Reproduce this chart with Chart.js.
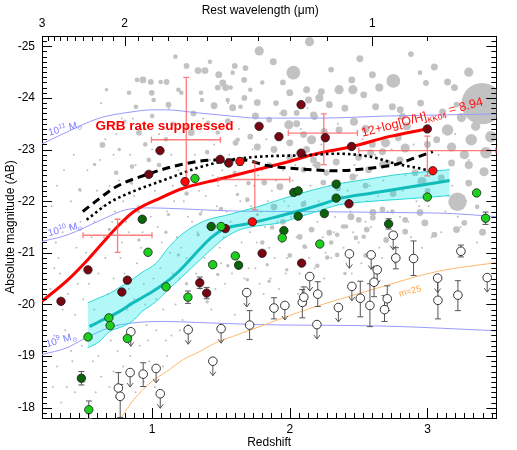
<!DOCTYPE html>
<html><head><meta charset="utf-8">
<script src="https://cdn.jsdelivr.net/npm/chart.js@4.4.1/dist/chart.umd.min.js"></script>
<style>html,body{margin:0;padding:0;background:#fff}canvas{display:block}</style>
</head><body>
<canvas id="c" width="517" height="450"></canvas>
<script>
// ---------------- DATA ----------------
const xMajorTicks = [1, 2, 3];
const xMinorPerUnit = 15;
const yMajorTicks = [-25, -24, -23, -22, -21, -20, -19, -18];
const obsWavelength = 3.6;
const waveMajorTicks = [3, 2, 1];
const waveMinorTicks = [2.9,2.8,2.7,2.6,2.5,2.4,2.3,2.2,2.1,1.9,1.8,1.7,1.6,1.5,1.4,1.3,1.2,1.1,0.9,0.8];

const darkRedZ = [1.057,0.976,1.494,1.556,1.777,2.082,1.921,2.082,2.258,2.449,2.999,2.430,0.534,0.820,0.780,0.338,1.346,1.396,1.532,1.799,2.086];
const darkRedM = [-22.98,-22.52,-22.81,-22.74,-23.45,-23.87,-23.25,-22.93,-23.23,-23.06,-23.40,-21.95,-20.67,-20.47,-20.24,-20.06,-20.42,-20.22,-21.47,-20.99,-20.80];
const greenZ = [1.311,0.970,1.440,1.101,1.260,0.686,0.695,0.534,0.820,0.540,1.501,1.945,2.218,1.604,2.999,3.357,3.422];
const greenM = [-22.44,-21.01,-20.77,-20.34,-20.14,-19.74,-19.59,-19.37,-19.34,-17.96,-21.51,-21.29,-21.17,-20.94,-22.08,-22.16,-21.67];
const darkGreenZ = [0.928,1.429,2.337,2.029,2.061,2.337,2.061,2.251,1.957,1.628,2.718,0.486];
const darkGreenM = [-21.65,-21.51,-22.33,-22.17,-22.20,-22.06,-21.71,-21.76,-21.43,-20.76,-21.56,-18.57];
const redZ = [1.239,1.638,1.728,3.039];
const redM = [-22.38,-22.77,-21.60,-22.59];
const colErrZ = [1.346,1.396,1.260,2.718,3.422,0.486,0.540,1.638];
const colErrM = [-20.42,-20.22,-20.14,-21.56,-21.67,-18.57,-17.96,-22.77];
const colErr  = [0.11,0.11,0.12,0.10,0.12,0.13,0.17,0.07];

const openZ = [0.845,0.840,0.755,0.768,0.935,1.029,1.059,1.262,1.441,1.501,1.708,1.687,1.885,1.964,2.091,2.102,2.145,2.203,2.197,2.353,2.433,2.451,2.512,2.582,2.591,2.635,2.612,2.688,2.708,2.751,2.770,2.899,3.074,3.076,3.221,3.243,3.434];
const openM = [-19.47,-18.68,-18.38,-18.22,-18.65,-18.76,-18.27,-19.51,-18.90,-19.53,-19.60,-20.23,-19.93,-19.98,-20.04,-20.14,-20.54,-20.20,-19.61,-19.94,-20.98,-20.35,-20.12,-19.98,-20.96,-20.67,-20.43,-19.90,-20.11,-21.34,-20.90,-20.89,-20.51,-20.08,-20.18,-21.03,-20.52];
const openUpperLimit = [1,1,0,0,0,1,1,1,1,1,0,1,0,1,0,0,1,0,1,1,1,1,0,0,1,1,0,0,0,1,0,0,1,0,0,0,1];
const openErrMinus = [0,0,0.30,0.23,0.22,0,0,0,0,0,0.28,0,0.20,0,0.25,0.20,0,0.24,0,0,0,0,0.33,0.42,0,0,0.28,0.27,0.25,0,0.20,0.34,0,0.40,0.28,0.12,0];
const openErrPlus  = [0,0,0.18,0.41,0.24,0,0,0,0,0,0.28,0,0.21,0,0.30,0.15,0,0.24,0,0,0,0,0.36,0.41,0,0,0.28,0.23,0.23,0,0.21,0.33,0,0.36,0.30,0.11,0];

const crossZ = [0.749,1.248,1.746,2.247,2.999];
const crossM = [-21.34,-23.19,-22.42,-23.32,-22.98];
const crossZLo = [0.498,0.995,1.477,1.989,2.501];
const crossZHi = [0.999,1.496,2.000,2.491,3.497];
const crossMTop = [-21.65,-24.40,-22.76,-23.69,-23.26];
const crossMBottom = [-21.01,-22.32,-21.83,-22.71,-22.49];

const metalZ = [0.2,0.390,0.534,0.630,0.749,0.868,1.059,1.226,1.477,1.716,1.955,2.193,2.456,2.718,2.994];
const metalM = [-20.06,-20.48,-20.87,-21.16,-21.51,-21.80,-22.06,-22.25,-22.42,-22.58,-22.74,-22.92,-23.06,-23.25,-23.40];
const dashedZ = [0.496,0.617,0.739,0.976,1.212,1.456,1.656,1.835,2.050,2.337,2.552,2.767,2.910,3.039];
const dashedM = [-21.80,-22.05,-22.28,-22.53,-22.71,-22.80,-22.80,-22.69,-22.63,-22.59,-22.63,-22.71,-22.84,-22.96];
const dottedZ = [0.524,0.689,0.854,1.097,1.334,1.570,1.763,2.107,2.344,2.588,2.752,2.989];
const dottedM = [-21.64,-21.97,-22.18,-22.42,-22.65,-22.80,-22.86,-22.89,-22.92,-22.86,-22.74,-22.61];
const medianZ = [0.546,0.617,0.689,0.761,0.854,0.926,1.026,1.097,1.169,1.241,1.334,1.427,1.527,1.692,1.907,2.050,2.244,2.358,2.602,2.838,3.161];
const medianM = [-19.57,-19.67,-19.76,-19.86,-20.02,-20.13,-20.29,-20.42,-20.58,-20.77,-21.04,-21.29,-21.47,-21.56,-21.70,-21.80,-21.95,-22.05,-22.16,-22.26,-22.40];
const bandZ = [0.532,0.617,0.689,0.782,0.854,0.926,1.026,1.118,1.212,1.334,1.427,1.527,1.642,1.763,1.928,2.050,2.172,2.358,2.552,2.767,2.981,3.161];
const bandUpper = [-20.03,-20.13,-20.21,-20.36,-20.48,-20.62,-20.79,-21.10,-21.35,-21.56,-21.66,-21.72,-21.80,-21.89,-22.03,-22.13,-22.22,-22.34,-22.42,-22.51,-22.57,-22.61];
const bandLower = [-19.16,-19.28,-19.47,-19.57,-19.67,-19.86,-20.05,-20.29,-20.52,-20.83,-21.06,-21.29,-21.45,-21.52,-21.58,-21.68,-21.78,-21.93,-21.99,-22.03,-22.07,-22.11];

const mass11Z = [0.2,0.381,0.617,0.854,0.997,1.097,1.334,1.570,1.763,2.229,2.702,3.5];
const mass11M = [-23.11,-23.34,-23.61,-23.73,-23.77,-23.77,-23.71,-23.65,-23.61,-23.61,-23.65,-23.69];
const mass10Z = [0.2,0.388,0.632,0.818,0.990,1.226,1.585,2.050,2.767,3.182,3.5];
const mass10M = [-21.22,-21.35,-21.64,-21.84,-21.87,-21.85,-21.81,-21.80,-21.78,-21.76,-21.70];
const mass9Z = [0.2,0.381,0.496,0.689,0.854,1.097,1.334,1.763,2.702,3.5];
const mass9M = [-19.03,-19.16,-19.32,-19.55,-19.64,-19.67,-19.65,-19.61,-19.58,-19.49];
const m25Z = [0.773,0.868,0.990,1.105,1.226,1.348,1.463,1.585,1.821,1.943,2.122,2.602,3.074,3.5];
const m25M = [-17.80,-18.16,-18.49,-18.70,-18.93,-19.09,-19.26,-19.38,-19.61,-19.73,-19.90,-20.29,-20.64,-20.81];

// field galaxies: [z, M, relative size]
const fieldBig = [
[1.778,-24.91,4],[2.143,-25.09,4],[2.509,-24.76,3],[2.752,-24.33,6],[2.026,-24.49,6],[1.334,-24.53,3],[1.384,-24.53,3],
[1.169,-24.80,2],[1.484,-24.45,3],[1.678,-24.58,2.5],[0.933,-24.35,3],[0.890,-24.35,2],[0.990,-24.31,2.5],[1.105,-24.31,2.5],
[1.062,-24.31,2],[1.191,-24.16,2],[1.477,-24.20,2.5],[1.570,-24.20,2],[1.713,-24.16,2],[0.997,-24.10,2.5],[1.011,-23.96,2],
[0.668,-24.16,1.5],[1.362,-23.96,2],[1.549,-23.96,2],[1.642,-23.83,2],[1.585,-24.49,2],[1.668,-24.35,2.5],[1.513,-24.29,3],
[1.534,-24.20,3],[2.000,-24.10,3],[2.122,-24.16,3],[2.136,-23.96,3],[1.764,-23.91,3],[1.670,-24.00,2.5],[1.585,-23.81,3],
[1.957,-23.71,3],[1.850,-23.58,2.5],[2.050,-23.71,2.5],[2.172,-23.67,3],[1.993,-23.48,4],[2.100,-23.29,3],[2.158,-23.19,4],
[2.000,-23.13,3],[1.885,-23.00,3],[1.764,-23.05,3],[1.713,-23.25,2.5],[1.606,-23.13,2.5],[1.477,-23.33,2],[1.406,-23.52,2],
[1.212,-24.10,2],[1.119,-23.87,2.5],[0.832,-24.10,2],[0.882,-23.83,2],[0.904,-23.33,2.5],[1.355,-24.10,2],[0.639,-23.09,2.5],
[1.284,-23.33,3],[1.621,-23.19,2],[0.976,-22.80,2],[0.854,-22.67,2],[0.739,-22.55,2],[2.229,-24.12,3],[2.215,-24.00,3.5],
[2.358,-24.16,4],[2.458,-24.16,4],[2.537,-24.06,3],[2.946,-24.49,2],[3.146,-24.31,3],[3.397,-23.89,18],[3.146,-23.38,5],
[3.247,-23.62,4],[3.318,-23.19,5],[3.110,-23.73,3],[3.211,-23.87,2.5],[3.268,-22.90,4],[3.175,-23.05,4],[3.425,-22.94,5],
[3.411,-22.57,4],[3.461,-23.25,5],[3.175,-22.74,3],[3.067,-23.19,3],[2.838,-23.03,4],[2.788,-23.23,3],[2.695,-23.13,4],
[2.673,-22.96,3],[2.587,-22.94,3],[2.623,-23.83,3],[2.745,-23.83,3],[2.817,-23.64,3],[2.358,-23.38,3],[2.179,-23.64,3],
[2.287,-23.87,3],[2.466,-23.54,3.5],[2.709,-22.74,3],[2.910,-22.55,3],[2.265,-22.55,2.5],[2.122,-23.00,3],[2.989,-24.29,2.5],
[3.196,-24.20,3],[2.802,-23.77,3],[2.172,-22.80,3],[2.673,-22.71,3],[2.337,-22.76,3],[2.243,-22.36,2.5],[2.458,-22.47,3],
[2.573,-22.61,3],[1.928,-22.28,3],[1.814,-22.36,2.5],[2.100,-22.61,2.5],[1.692,-22.03,2],[1.885,-21.89,3],[2.444,-21.70,3],
[2.603,-21.78,3],[2.072,-21.31,2.5],[2.158,-21.45,2.5],[2.287,-21.39,2.5],[2.387,-21.51,2],[2.673,-21.84,2.5],[3.218,-21.99,8],
[2.981,-21.58,3],[3.211,-21.45,3],[2.946,-21.78,3],[2.838,-21.64,2.5],[2.745,-21.80,2],[2.603,-21.68,2.5],[2.501,-21.64,2.5],
[2.408,-21.51,2],[2.480,-21.29,2],[3.268,-21.58,2.5],[3.361,-21.89,2],[2.960,-22.38,4],[1.871,-21.49,2],[2.344,-21.35,2],
[2.559,-21.45,2.5],[2.838,-21.41,2.5],[2.537,-21.31,2],[2.301,-21.20,2],[2.344,-20.96,2],[2.272,-20.91,2],[2.107,-21.12,2],
[0.582,-22.71,1.5],[0.761,-23.00,1.5],[0.474,-22.22,1.5],[0.689,-21.45,1.5],[0.904,-21.25,1.5],[1.119,-21.74,1.5],[1.334,-21.35,1.5],
[1.191,-20.96,1.5],[1.477,-20.58,1.5],[1.692,-20.48,1.5],[1.836,-20.77,1.5],[1.978,-20.67,1.5],[1.620,-22.13,1.5],[1.764,-21.74,1.5],
[1.25,-24.62,2.5],[1.42,-24.70,2],[1.60,-24.62,2.5],[1.88,-24.70,3],[2.30,-24.55,2.5],[2.60,-24.45,3],[2.88,-24.85,2.5],
[3.05,-24.60,3],[3.30,-24.50,4],[1.95,-24.30,2.5],[2.45,-24.35,3],[2.65,-24.20,3.5],[1.80,-24.30,2],
[1.30,-23.70,2.5],[1.45,-23.85,3],[1.55,-23.55,2.5],[1.75,-23.65,3],[1.90,-23.90,2.5],[2.05,-23.50,3],[2.25,-23.35,3],
[2.40,-23.80,3],[2.55,-23.40,3.5],[2.60,-23.10,3],[2.85,-23.45,3.5],[2.95,-23.90,3],[3.00,-23.10,3],[3.35,-23.45,4],
[3.45,-23.65,3],[1.15,-23.50,2],[1.00,-23.65,2],[0.80,-23.55,1.5],[0.95,-23.10,2],[1.10,-23.20,2],
[1.40,-22.95,2],[1.60,-22.55,2],[1.85,-22.70,2.5],[2.00,-22.85,3],[2.20,-22.70,3],[2.50,-22.85,3],[2.80,-22.80,3],
[3.10,-22.45,3],[3.30,-22.70,3.5],[2.35,-22.25,2.5],[2.55,-22.30,2.5],[2.75,-22.15,3],[3.00,-22.20,2.5],[3.30,-22.35,3],
[1.70,-22.35,2],[1.05,-22.70,2],[0.85,-22.35,1.5],[1.25,-22.15,2],
[1.50,-21.85,2],[1.95,-21.60,2.5],[2.10,-21.95,2.5],[2.70,-21.25,2.5],[3.05,-21.35,2.5],[3.40,-21.40,3],[2.55,-20.95,2],
[2.20,-20.75,2],[1.80,-21.20,2],[1.35,-21.75,1.5],[1.10,-21.40,1.5],[0.90,-21.80,1.5],
[1.55,-20.75,1.5],[1.85,-20.45,1.5],[2.00,-20.95,2],[2.40,-20.60,1.5],[1.25,-20.40,1.5],[1.40,-20.05,1.5]
];
const fieldDots = [
[0.27,-21.9],[0.30,-21.2],[0.33,-20.6],[0.35,-19.9],[0.29,-19.4],[0.31,-18.8],[0.38,-18.4],[0.41,-19.1],[0.44,-19.8],[0.46,-20.4],
[0.40,-21.5],[0.48,-22.2],[0.52,-21.0],[0.55,-19.6],[0.57,-18.9],[0.59,-18.3],[0.36,-22.6],[0.43,-22.9],[0.50,-20.1],[0.34,-18.1],
[0.47,-18.6],[0.26,-20.3],[0.53,-22.6],[0.58,-21.6],[0.62,-22.8],[0.64,-21.9],[0.66,-20.9],[0.68,-20.2],[0.70,-19.3],[0.72,-18.7],
[0.74,-23.3],[0.76,-22.4],[0.78,-21.2],[0.80,-20.6],[0.82,-19.9],[0.84,-19.0],[0.86,-23.6],[0.88,-22.7],[0.90,-21.9],[0.92,-21.1],
[0.94,-20.4],[0.96,-19.6],[0.98,-18.9],[1.00,-23.0],[1.02,-22.2],[1.04,-21.5],[1.06,-20.7],[1.08,-19.9],[1.10,-19.3],[1.12,-23.8],
[1.14,-22.9],[1.16,-22.0],[1.18,-21.3],[1.20,-20.5],[1.22,-19.7],[1.24,-23.4],[1.26,-21.7],[1.28,-20.9],[0.63,-23.9],[0.71,-21.6],
[0.79,-22.0],[0.87,-20.1],[0.95,-22.5],[1.03,-20.1],[1.11,-21.8],[1.19,-22.6],[1.27,-20.2],[0.69,-22.3],[0.83,-21.4],[0.97,-21.0],
[1.05,-23.3],[1.15,-20.6],[0.75,-19.6],[0.91,-19.2],[1.31,-22.9],[1.33,-21.4],[1.35,-20.3],[1.37,-23.6],[1.39,-22.1],[1.41,-20.8],
[1.43,-19.9],[1.45,-23.1],[1.47,-21.9],[1.49,-21.1],[1.51,-22.6],[1.53,-20.4],[1.55,-23.9],[1.57,-21.6],[1.59,-20.9],[1.61,-22.3],
[1.63,-23.4],[1.65,-21.2],[1.67,-20.5],[1.69,-22.0],[1.71,-21.4],[1.73,-23.0],[1.75,-20.7],[1.77,-22.5],[1.79,-21.8],[1.81,-20.2],
[1.83,-23.2],[1.85,-21.1],[1.87,-22.2],[1.89,-20.9],[1.91,-21.6],[1.93,-23.7],[1.95,-22.6],[1.97,-20.6],[1.99,-21.9],[1.36,-21.8],
[1.52,-21.3],[1.68,-22.8],[1.84,-22.0],[1.44,-22.5],[1.60,-19.8],[2.02,-22.4],[2.05,-21.3],[2.08,-23.4],[2.11,-22.0],[2.14,-20.9],
[2.17,-22.7],[2.20,-21.6],[2.23,-23.1],[2.26,-21.0],[2.29,-22.3],[2.32,-21.4],[2.35,-23.5],[2.38,-22.1],[2.41,-20.8],[2.44,-21.8],
[2.47,-22.7],[2.50,-21.2],[2.53,-23.2],[2.56,-22.0],[2.59,-21.5],[2.62,-22.9],[2.65,-21.1],[2.68,-22.4],[2.71,-21.8],[2.74,-23.0],
[2.77,-21.4],[2.07,-20.6],[2.25,-20.5],[2.45,-20.6],[2.13,-23.8],[2.82,-22.2],[2.86,-21.6],[2.90,-23.1],[2.94,-21.9],[2.98,-22.6],
[3.03,-21.3],[3.08,-22.9],[3.13,-21.8],[3.18,-22.3],[3.24,-21.5],[3.30,-22.8],[3.36,-21.2],[3.05,-23.6],[3.20,-23.3],
[0.32,-20.9],[0.37,-19.5],[0.39,-20.2],[0.42,-18.9],[0.45,-21.1],[0.49,-19.2],[0.51,-18.5],[0.54,-20.4],[0.56,-21.3],[0.58,-19.9],
[0.61,-20.6],[0.61,-19.0],[0.63,-18.6],[0.65,-21.3],[0.67,-19.6],[0.69,-18.4],[0.72,-20.5],[0.73,-21.8],[0.75,-19.1],[0.77,-20.9],
[0.79,-18.8],[0.81,-21.6],[0.83,-20.3],[0.85,-19.4],[0.87,-22.1],[0.89,-20.8],[0.91,-18.6],[0.93,-21.4],[0.95,-20.0],[0.97,-19.3],
[0.99,-21.7],[1.01,-20.5],[1.03,-19.5],[1.05,-22.4],[1.07,-21.2],[1.09,-20.3],[1.11,-19.0],[1.13,-21.0],[1.15,-22.3],[1.17,-20.0],
[1.21,-21.1],[1.23,-22.0],[1.25,-20.9],[1.29,-21.6],[1.32,-20.6],[1.34,-22.2],[1.38,-20.9],[1.40,-21.5],[1.42,-22.8],[1.46,-20.3],
[1.48,-22.3],[1.50,-20.8],[1.54,-21.8],[1.56,-22.9],[1.58,-20.6],[1.62,-21.0],[1.64,-22.0],[1.66,-20.2],[1.70,-20.7],[1.72,-21.9],
[1.74,-22.3],[1.76,-21.2],[1.78,-20.4],[1.80,-22.6],[1.82,-21.5],[1.86,-20.5],[1.88,-21.8],[1.90,-22.4],[1.92,-20.3],[1.94,-21.2],
[1.96,-22.0],[1.98,-20.9],[2.01,-21.7],[2.04,-22.7],[2.06,-20.2],[2.09,-21.9],[2.12,-21.1],[2.15,-22.3],[2.18,-20.7],[2.21,-22.0],
[2.24,-21.3],[2.27,-22.6],[2.30,-20.9],[2.33,-21.7],[2.36,-22.4],[2.39,-21.1],[2.42,-22.2],[2.46,-21.4],[2.49,-22.5],[2.52,-20.8],
[2.55,-21.6],[2.58,-22.3],[2.61,-21.0],[2.64,-22.1],[2.67,-20.9],[2.70,-21.5],[2.73,-22.2],[2.76,-20.8],[2.80,-21.7],[2.84,-22.5],
[2.88,-21.3],[2.92,-22.0],[2.96,-21.1],[3.01,-21.9],[3.10,-21.4],[3.15,-22.1],[3.22,-21.7],[3.28,-22.0],[0.29,-20.7],[0.31,-22.3],
[0.28,-18.4],[0.35,-21.4],[0.41,-22.0],[0.44,-18.3],[0.48,-21.6],[0.53,-18.0],[0.60,-22.2],[0.66,-23.2],[0.72,-22.9],[0.78,-23.6],
[0.84,-22.9],[0.88,-18.3],[0.94,-18.5],[1.02,-18.4],[1.08,-18.8],[1.14,-19.4],[1.20,-19.5],[1.26,-19.6]
];

// ---------------- CHART ----------------
const FONT = 'Liberation Sans, Arial, Helvetica, sans-serif';
const pts = (zs, ms) => zs.map((z, i) => ({x: z, y: ms[i]}));

function richText(ctx, x, y, ang, parts, color, align) {
  ctx.save();
  ctx.translate(x, y);
  ctx.rotate(ang * Math.PI / 180);
  ctx.fillStyle = color;
  ctx.textBaseline = 'alphabetic';
  ctx.textAlign = 'left';
  let w = 0;
  for (const p of parts) { ctx.font = p.f; w += ctx.measureText(p.t).width; }
  let cx = align === 'center' ? -w / 2 : 0;
  const oy = align === 'center' ? 3.5 : 0;
  for (const p of parts) { ctx.font = p.f; ctx.fillText(p.t, cx, (p.dy || 0) + oy); cx += ctx.measureText(p.t).width; }
  ctx.restore();
}

const errPlugin = {
  id: 'errs',
  beforeDatasetDraw(chart, args) {
    const ds = chart.data.datasets[args.index];
    if (!ds.kind) return;
    const ctx = chart.ctx, X = chart.scales.x, Y = chart.scales.y;
    ctx.save();
    if (ds.kind === 'cross') {
      ctx.strokeStyle = 'rgba(255,80,80,0.75)'; ctx.lineWidth = 1.3;
      ctx.beginPath();
      for (let i = 0; i < crossZ.length; i++) {
        const px = X.getPixelForValue(crossZ[i]), py = Y.getPixelForValue(crossM[i]);
        const x0 = X.getPixelForValue(crossZLo[i]), x1 = X.getPixelForValue(crossZHi[i]);
        const y0 = Y.getPixelForValue(crossMTop[i]), y1 = Y.getPixelForValue(crossMBottom[i]);
        ctx.moveTo(x0, py); ctx.lineTo(x1, py);
        ctx.moveTo(x0, py - 3); ctx.lineTo(x0, py + 3);
        ctx.moveTo(x1, py - 3); ctx.lineTo(x1, py + 3);
        ctx.moveTo(px, y0); ctx.lineTo(px, y1);
        ctx.moveTo(px - 3, y0); ctx.lineTo(px + 3, y0);
        ctx.moveTo(px - 3, y1); ctx.lineTo(px + 3, y1);
      }
      ctx.stroke();
    } else if (ds.kind === 'open') {
      ctx.strokeStyle = '#555'; ctx.lineWidth = 1;
      ctx.beginPath();
      for (let i = 0; i < openZ.length; i++) {
        const px = X.getPixelForValue(openZ[i]), py = Y.getPixelForValue(openM[i]);
        if (openUpperLimit[i]) {
          const tip = py + 14.5;
          ctx.moveTo(px, py); ctx.lineTo(px, tip);
          ctx.moveTo(px - 3, tip - 4); ctx.lineTo(px, tip); ctx.lineTo(px + 3, tip - 4);
        } else {
          const y0 = Y.getPixelForValue(openM[i] - openErrMinus[i]);
          const y1 = Y.getPixelForValue(openM[i] + openErrPlus[i]);
          ctx.moveTo(px, y0); ctx.lineTo(px, y1);
          ctx.moveTo(px - 3, y0); ctx.lineTo(px + 3, y0);
          ctx.moveTo(px - 3, y1); ctx.lineTo(px + 3, y1);
        }
      }
      ctx.stroke();
    } else if (ds.kind === 'colErr') {
      ctx.strokeStyle = '#555'; ctx.lineWidth = 1;
      ctx.beginPath();
      for (let i = 0; i < colErrZ.length; i++) {
        const px = X.getPixelForValue(colErrZ[i]);
        const y0 = Y.getPixelForValue(colErrM[i] - colErr[i]);
        const y1 = Y.getPixelForValue(colErrM[i] + colErr[i]);
        ctx.moveTo(px, y0); ctx.lineTo(px, y1);
        ctx.moveTo(px - 3, y0); ctx.lineTo(px + 3, y0);
        ctx.moveTo(px - 3, y1); ctx.lineTo(px + 3, y1);
      }
      ctx.stroke();
    }
    ctx.restore();
  }
};

const tickPlugin = {
  id: 'inTicks',
  afterDraw(chart) {
    const {ctx, chartArea: a, scales} = chart;
    const X = scales.x, Y = scales.y;
    ctx.save();
    ctx.strokeStyle = '#000'; ctx.lineWidth = 1;
    ctx.beginPath();
    const kx0 = Math.ceil(X.min * xMinorPerUnit - 1e-6), kx1 = Math.floor(X.max * xMinorPerUnit + 1e-6);
    for (let k = kx0; k <= kx1; k++) {
      const px = Math.round(X.getPixelForValue(k / xMinorPerUnit)) + 0.5;
      const len = (k % xMinorPerUnit === 0) ? 10 : 5;
      ctx.moveTo(px, a.bottom); ctx.lineTo(px, a.bottom - len);
    }
    const waveAll = waveMajorTicks.map(l => [l, 10]).concat(waveMinorTicks.map(l => [l, 5]));
    for (const [l, len] of waveAll) {
      const px = Math.round(X.getPixelForValue(obsWavelength / l - 1)) + 0.5;
      ctx.moveTo(px, a.top); ctx.lineTo(px, a.top + len);
    }
    for (let k = Math.ceil(Y.min * 10 - 1e-6); k <= Math.floor(Y.max * 10 + 1e-6); k++) {
      const py = Math.round(Y.getPixelForValue(k / 10)) + 0.5;
      const len = (k % 10 === 0) ? 10 : 5;
      ctx.moveTo(a.left, py); ctx.lineTo(a.left + len, py);
      ctx.moveTo(a.right, py); ctx.lineTo(a.right - len, py);
    }
    ctx.stroke();
    ctx.restore();
  }
};

const labelPlugin = {
  id: 'labels',
  afterDatasetsDraw(chart) {
    const ctx = chart.ctx, X = chart.scales.x, Y = chart.scales.y;
    const P = (z, m) => [X.getPixelForValue(z), Y.getPixelForValue(m)];
    let p;
    p = P(0.589, -23.37);
    richText(ctx, p[0], p[1], 0, [{t: 'GRB rate suppressed', f: 'bold 13.5px ' + FONT}], '#ff0000');
    p = P(2.528, -23.25);
    richText(ctx, p[0], p[1], -14.5, [
      {t: '12+log[O/H]', f: '12.5px ' + FONT},
      {t: 'KK04', f: '8px ' + FONT, dy: 3},
      {t: ' = 8.94', f: '12.5px ' + FONT}], '#ff1010');
    const blue = '#7a7aff';
    const massLbl = (exp) => [
      {t: '10', f: '10px ' + FONT}, {t: exp, f: '7px ' + FONT, dy: -4},
      {t: ' M', f: '10px ' + FONT}, {t: '\u2299', f: '6px ' + FONT, dy: 2}];
    p = P(0.367, -23.42); richText(ctx, p[0], p[1], -15, massLbl('11'), blue, 'center');
    p = P(0.367, -21.47); richText(ctx, p[0], p[1], -14, massLbl('10'), blue, 'center');
    p = P(0.338, -19.32); richText(ctx, p[0], p[1], -16, massLbl('9'), blue, 'center');
    p = P(2.872, -20.27); richText(ctx, p[0], p[1], -15, [{t: 'm=25', f: '9px ' + FONT}], '#ffa040', 'center');
  }
};

const scatterPts = (zs, ms, color, order) => ({
  type: 'scatter', data: pts(zs, ms), order,
  pointRadius: 4.2, pointHoverRadius: 4.2, pointBorderWidth: 0.8,
  pointBackgroundColor: color, pointBorderColor: '#1a1a1a'
});
const curve = (zs, ms, color, width, order, extra) => Object.assign({
  type: 'line', data: pts(zs, ms), order, borderColor: color, borderWidth: width,
  pointRadius: 0, fill: false, cubicInterpolationMode: 'monotone', clip: 0
}, extra || {});

const datasets = [
  scatterPts(redZ, redM, '#ff0808', 1),
  scatterPts(greenZ, greenM, '#1ed01e', 2),
  scatterPts(darkGreenZ, darkGreenM, '#0a640a', 3),
  scatterPts(darkRedZ, darkRedM, '#7a0512', 4),
  {type: 'scatter', kind: 'colErr', data: pts(colErrZ, colErrM), pointRadius: 0, order: 4.5},
  {type: 'scatter', kind: 'open', data: pts(openZ, openM), order: 5,
   pointRadius: 4.3, pointBorderWidth: 1, pointBackgroundColor: '#ffffff', pointBorderColor: '#333'},
  {type: 'scatter', kind: 'cross', data: pts(crossZ, crossM), pointRadius: 0, order: 6},
  curve(dottedZ, dottedM, '#000', 2.6, 7, {borderDash: [2.5, 3]}),
  curve(dashedZ, dashedM, '#000', 3, 8, {borderDash: [8, 5]}),
  curve(metalZ, metalM, '#ff0000', 3, 9),
  curve(medianZ, medianM, '#10bcbc', 3, 10),
  curve(bandZ, bandUpper, '#30d4d4', 1, 11, {fill: '+1', backgroundColor: 'rgba(0,232,232,0.3)'}),
  curve(bandZ, bandLower, '#30d4d4', 1, 12),
  curve(m25Z, m25M, '#ffb870', 1, 13),
  curve(mass11Z, mass11M, '#9a9aff', 1, 14),
  curve(mass10Z, mass10M, '#9a9aff', 1, 15),
  curve(mass9Z, mass9M, '#9a9aff', 1, 16),
  {type: 'scatter', data: fieldBig.map(d => ({x: d[0], y: d[1]})), order: 17, clip: 0,
   pointRadius: c => fieldBig[c.dataIndex][2] * 1.15, pointBorderWidth: 0,
   pointBackgroundColor: '#c2c2c2', pointBorderColor: '#c2c2c2'},
  {type: 'scatter', data: fieldDots.map(d => ({x: d[0], y: d[1]})), order: 18, clip: 0,
   pointRadius: 1, pointBorderWidth: 0, pointBackgroundColor: '#bdbdbd', pointBorderColor: '#bdbdbd'}
];

const tickFont = {family: FONT, size: 12};
new Chart(document.getElementById('c'), {
  type: 'scatter',
  data: {datasets},
  options: {
    responsive: false, animation: false, devicePixelRatio: 1,
    layout: {padding: 0},
    events: [],
    plugins: {legend: {display: false}, tooltip: {enabled: false}},
    scales: {
      x: {
        type: 'linear', position: 'bottom', min: 0.2, max: 3.5,
        afterBuildTicks: s => { s.ticks = xMajorTicks.map(v => ({value: v})); },
        afterFit: s => { s.height = 32; },
        grid: {display: false, drawTicks: false},
        border: {display: true, color: '#000', width: 1},
        ticks: {font: tickFont, color: '#000', padding: 4, maxRotation: 0, autoSkip: false, callback: v => String(v)},
        title: {display: true, text: 'Redshift', font: tickFont, color: '#000', padding: {top: 0, bottom: 0}}
      },
      xTop: {
        type: 'linear', position: 'top', min: 0.2, max: 3.5,
        afterBuildTicks: s => { s.ticks = waveMajorTicks.map(l => ({value: obsWavelength / l - 1})); },
        afterFit: s => { s.height = 36; },
        grid: {display: false, drawTicks: false},
        border: {display: true, color: '#000', width: 1},
        ticks: {font: tickFont, color: '#000', padding: 5, maxRotation: 0, autoSkip: false,
                callback: v => String(Math.round(obsWavelength / (1 + v)))},
        title: {display: true, text: 'Rest wavelength (\u03bcm)\u2003\u2002', font: tickFont, color: '#000', padding: {top: 3, bottom: 0}}
      },
      y: {
        type: 'linear', position: 'left', reverse: true, min: -25.2, max: -17.8,
        afterBuildTicks: s => { s.ticks = yMajorTicks.map(v => ({value: v})); },
        afterFit: s => { s.width = 42; },
        grid: {display: false, drawTicks: false},
        border: {display: true, color: '#000', width: 1},
        ticks: {font: tickFont, color: '#000', padding: 7, autoSkip: false, callback: v => String(v)},
        title: {display: true, text: 'Absolute magnitude (AB)', font: tickFont, color: '#000', padding: {top: 3, bottom: 0}}
      },
      yRight: {
        type: 'linear', position: 'right', reverse: true, min: -25.2, max: -17.8,
        afterFit: s => { s.width = 14; },
        grid: {display: false, drawTicks: false},
        border: {display: true, color: '#000', width: 1},
        ticks: {display: false}
      }
    }
  },
  plugins: [errPlugin, tickPlugin, labelPlugin]
});
</script>
</body></html>
